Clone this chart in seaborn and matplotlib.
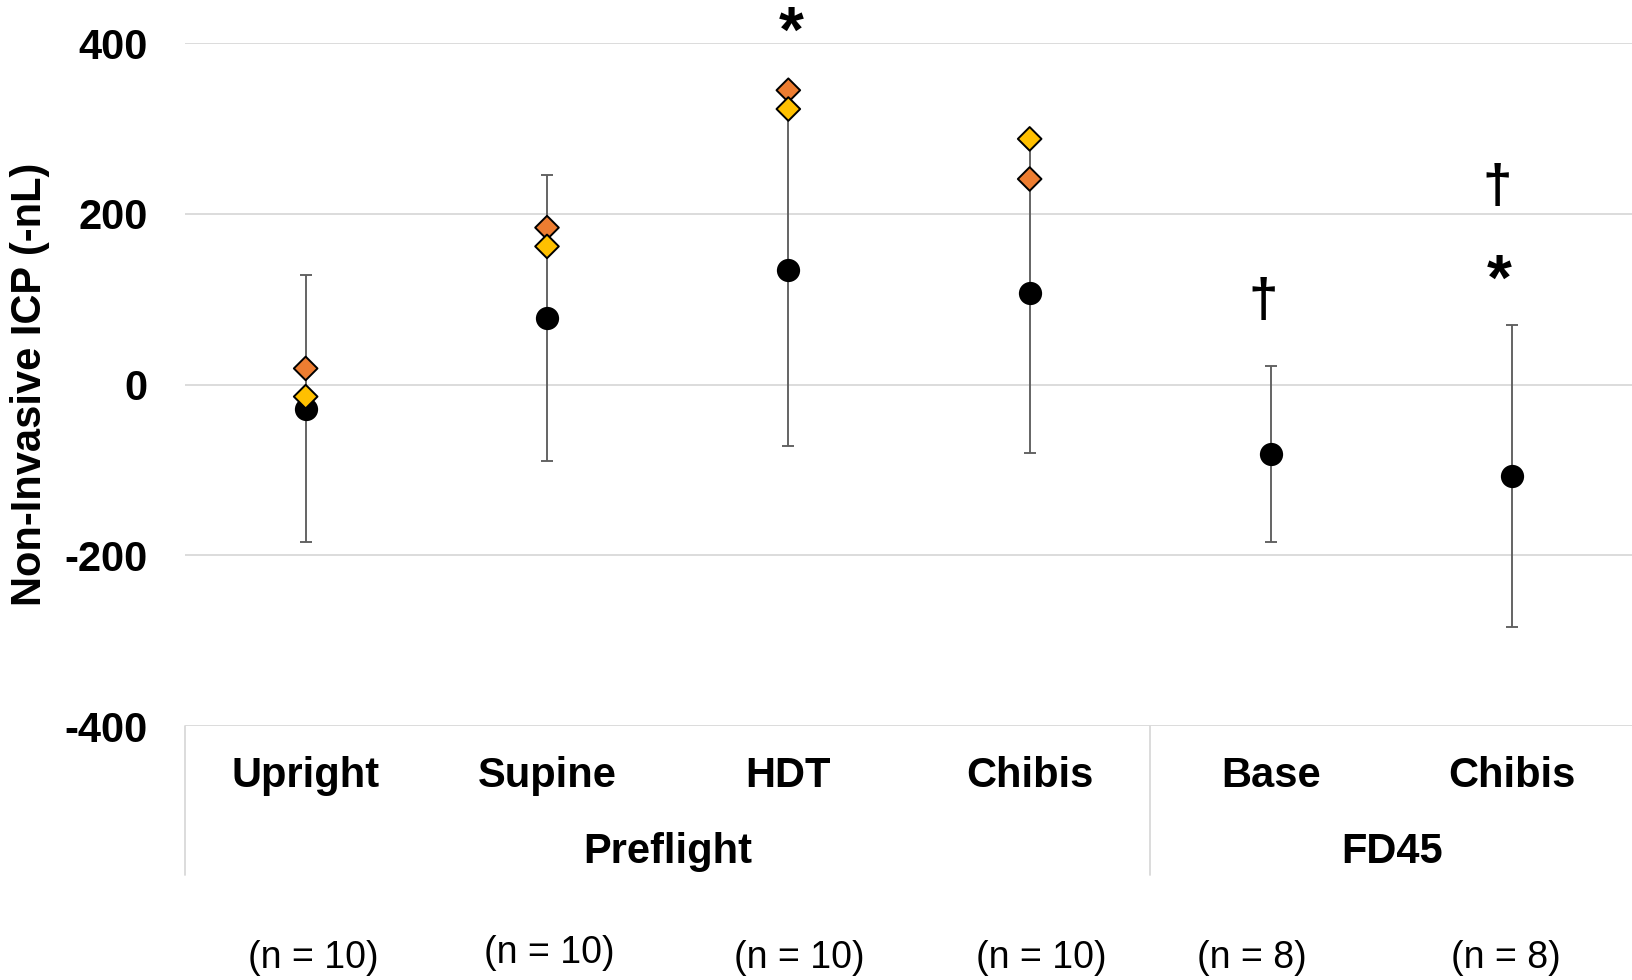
import numpy as np
import pandas as pd
import matplotlib
matplotlib.use("Agg")
import matplotlib.pyplot as plt
import seaborn as sns

# ---- data ----
categories = ["Upright", "Supine", "HDT", "Chibis", "Base", "Chibis"]
groups = ["Preflight", "FD45"]
group_sizes = [4, 2]
n_labels = ["(n = 10)", "(n = 10)", "(n = 10)", "(n = 10)", "(n = 8)", "(n = 8)"]
mean_icp = [-28, 78, 134, 107, -81, -107]
sd_icp = [156, 168, 206, 187, 103, 177]
orange_icp = [19, 184, 345, 241, np.nan, np.nan]
yellow_icp = [-14, 162, 323, 288, np.nan, np.nan]
annot_text = ["*", "\u2020", "\u2020", "*"]
annot_cat = [2, 4, 5, 5]
annot_y = [390, 81, 214, 100]
y_ticks = [-400, -200, 0, 200, 400]

sns.set_style("white")
plt.rcParams["font.family"] = ["Liberation Sans", "DejaVu Sans"]
plt.rcParams["text.color"] = "black"
plt.rcParams["axes.labelcolor"] = "black"
plt.rcParams["ytick.color"] = "black"
plt.rcParams["xtick.color"] = "black"

W, H = 1633, 980
fig = plt.figure(figsize=(W / 100, H / 100), dpi=100)
ax = fig.add_axes([185 / W, 254 / H, 1448 / W, 682.7 / H])

xs = np.arange(len(categories))
df = pd.DataFrame({"x": xs, "mean": mean_icp, "sd": sd_icp,
                   "orange": orange_icp, "yellow": yellow_icp})

# error bars (mean +/- SD)
ax.errorbar(df["x"], df["mean"], yerr=df["sd"], fmt="none", ecolor="#5f5f5f",
            elinewidth=1.35, capsize=4.2, capthick=1.35, zorder=2)

# mean points
sns.scatterplot(data=df, x="x", y="mean", ax=ax, color="black", s=280,
                edgecolor="black", linewidth=0, zorder=3, legend=False)

# individual diamonds
long = pd.concat([
    pd.DataFrame({"x": xs, "val": orange_icp, "series": "orange"}),
    pd.DataFrame({"x": xs, "val": yellow_icp, "series": "yellow"}),
]).dropna()
sns.scatterplot(data=long, x="x", y="val", hue="series", ax=ax,
                palette={"orange": "#ED7D31", "yellow": "#FFC000"},
                marker="D", s=145, edgecolor="black", linewidth=1.4,
                zorder=4, legend=False)

ax.set_xlim(-0.5, len(categories) - 0.5)
ax.set_ylim(-400, 400)
ax.set_yticks(y_ticks)
ax.set_yticklabels([str(v) for v in y_ticks], fontsize=30, fontweight="bold",
                   color="black")
ax.set_xticks([])
ax.set_xlabel("")
ax.tick_params(axis="y", length=0, pad=27)
ax.grid(axis="y", color="#d9d9d9", linewidth=1.3)
ax.grid(axis="x", visible=False)
for s in ax.spines.values():
    s.set_visible(False)

ax.set_ylabel("Non-Invasive ICP (-nL)", fontsize=30, fontweight="bold",
              color="black")
ax.yaxis.set_label_coords(-0.093, 0.5)

# category axis box
trans = ax.get_xaxis_transform()
for i, c in enumerate(categories):
    ax.text(i, -0.0732, c, transform=trans, ha="center", va="center",
            fontsize=30, fontweight="bold", color="black")
bounds = np.cumsum([0] + group_sizes) - 0.5
for b in bounds:
    ax.plot([b, b], [0, -0.218], transform=trans, color="#d9d9d9",
            linewidth=1.3, clip_on=False)
for g, lo, hi in zip(groups, bounds[:-1], bounds[1:]):
    ax.text((lo + hi) / 2, -0.1846, g, transform=trans, ha="center",
            va="center", fontsize=30, fontweight="bold", color="black")

n_offsets = [0.03, 0.01, 0.045, 0.05, -0.08, -0.025]
n_dy = [0, 0.007, 0, 0, 0, 0]
for i, t in enumerate(n_labels):
    ax.text(i + n_offsets[i], -0.340 + n_dy[i], t, transform=trans,
            ha="center", va="center", fontsize=27, color="black")

# significance markers
annot_dx = [0.01, -0.033, -0.062, -0.056]
annot_size = [46, 38, 38, 46]
for t, c, y, dx, fs in zip(annot_text, annot_cat, annot_y, annot_dx, annot_size):
    ax.text(c + dx, y, t, ha="center", va="baseline", fontsize=fs,
            fontweight="bold", color="black", clip_on=False)

fig.savefig("out.png", dpi=100)
